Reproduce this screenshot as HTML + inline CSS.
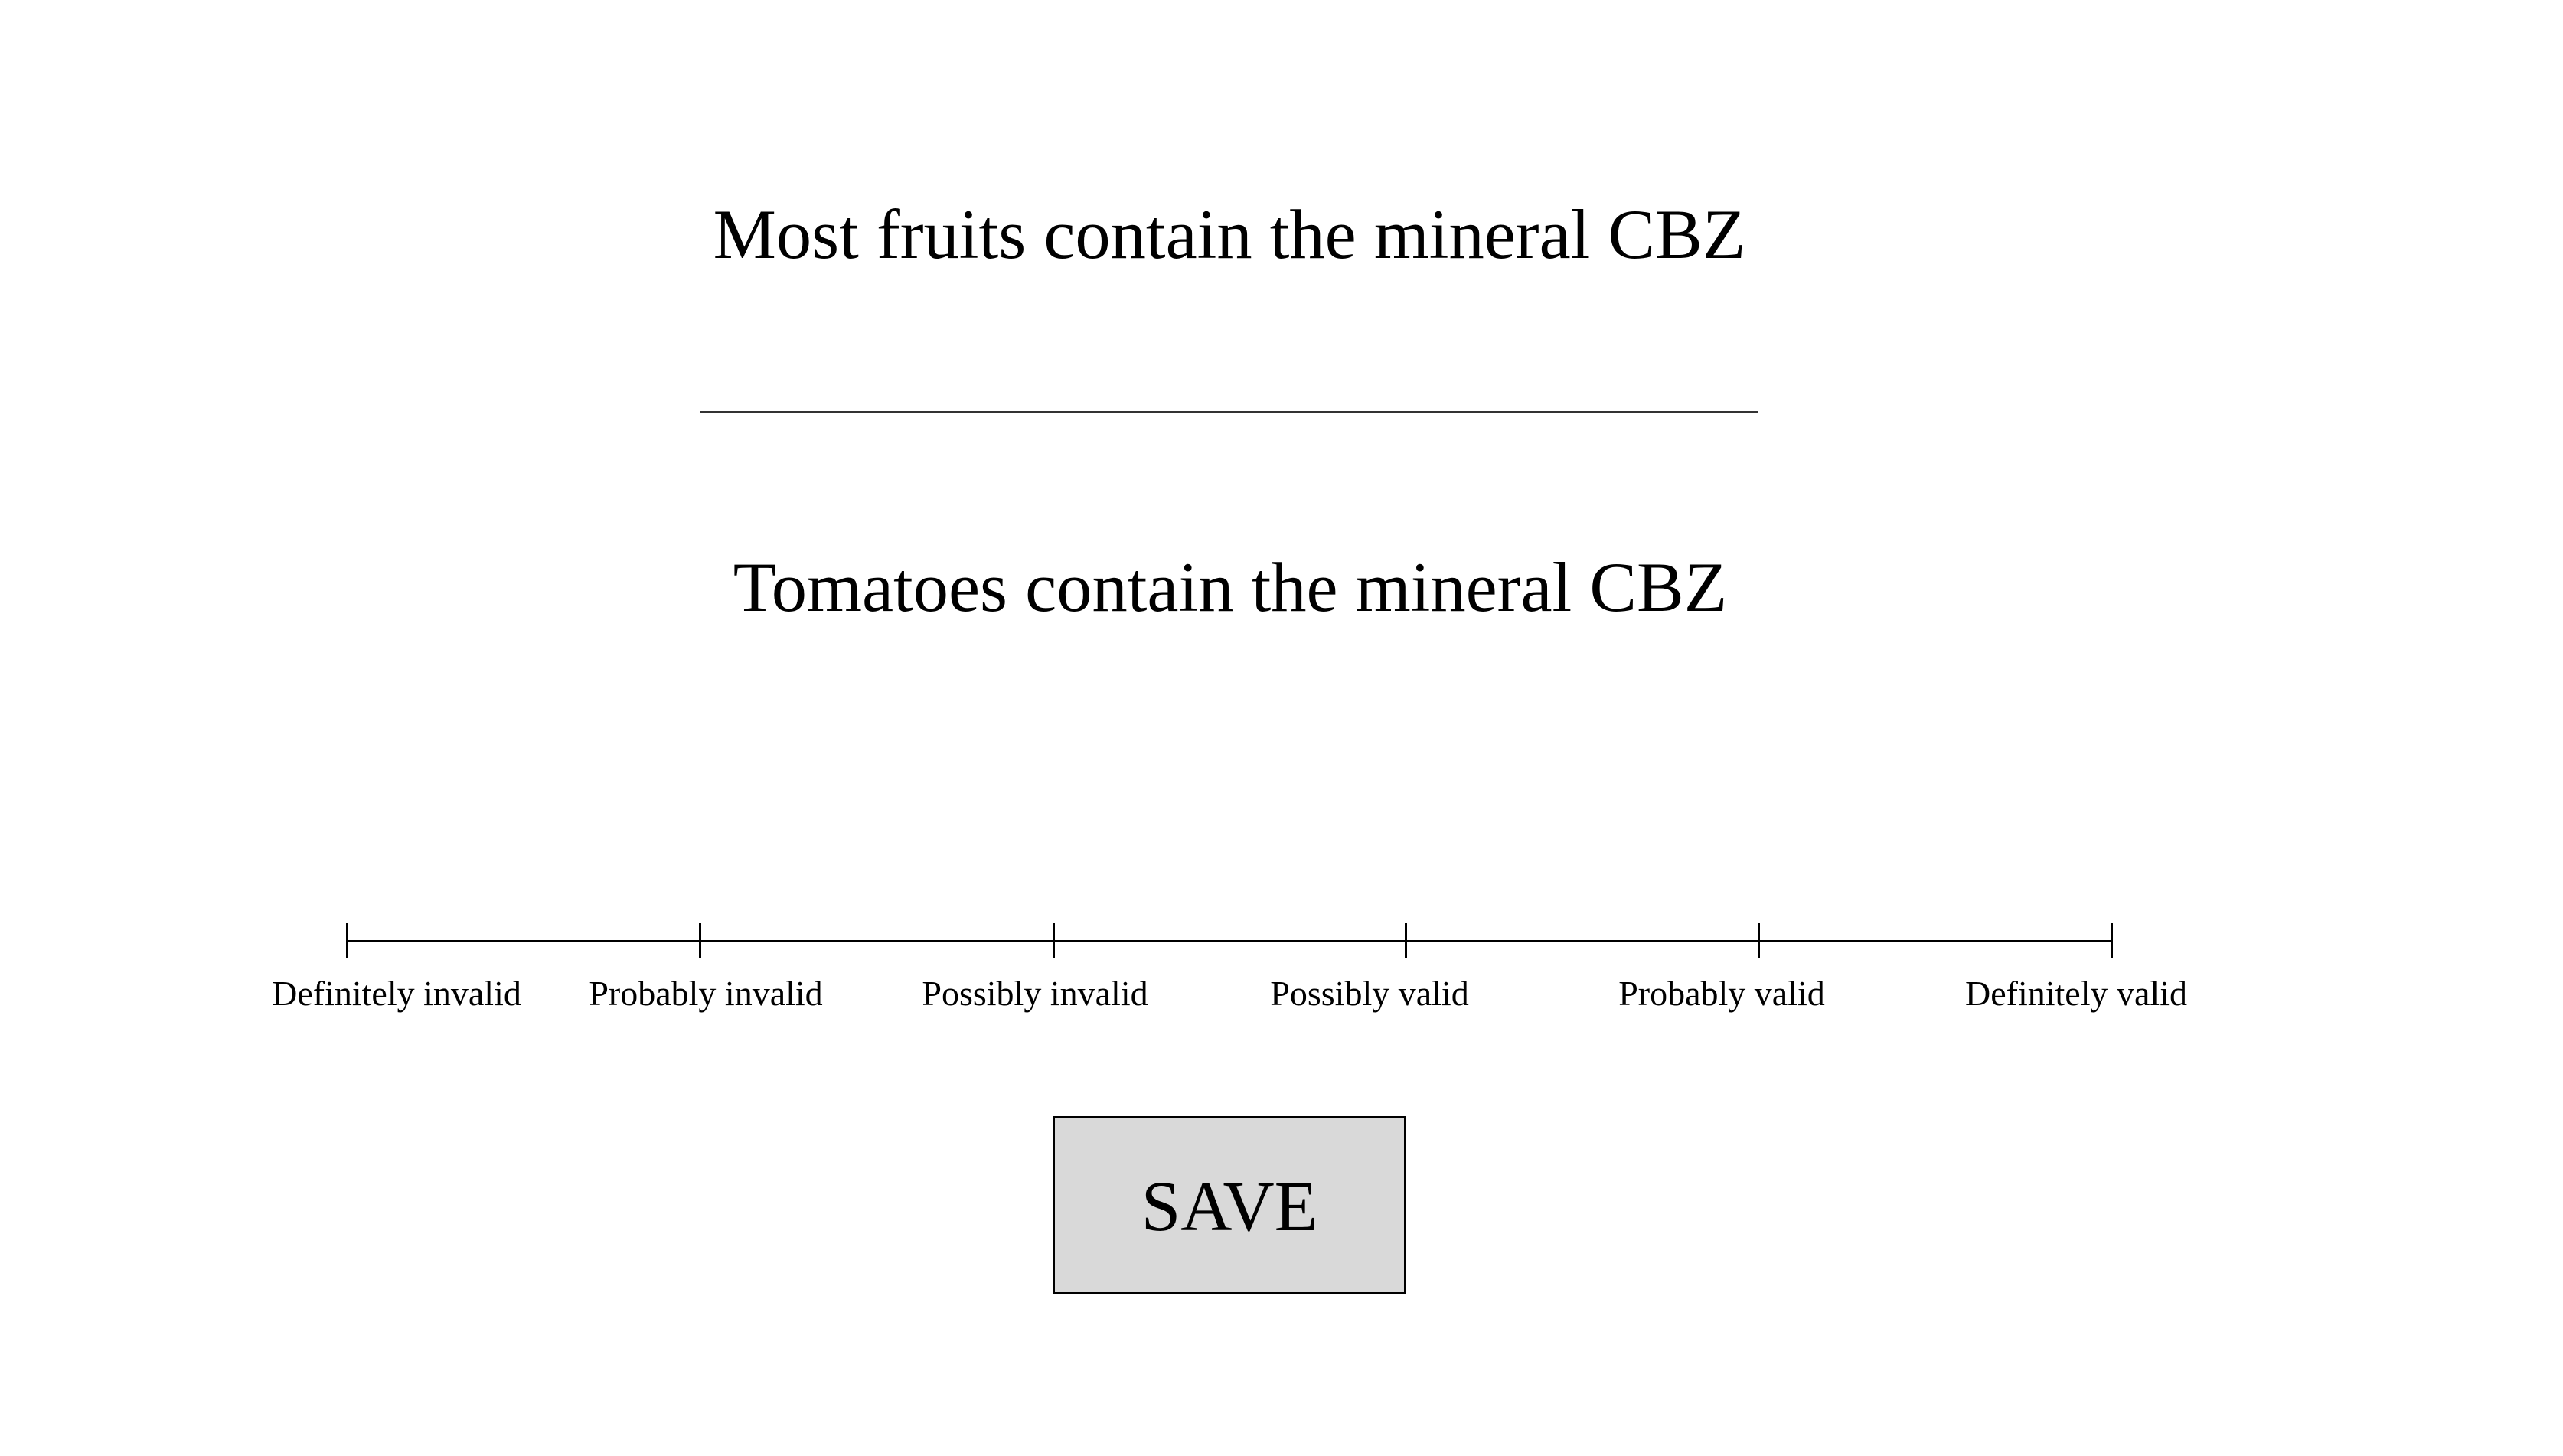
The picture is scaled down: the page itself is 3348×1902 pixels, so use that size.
<!DOCTYPE html>
<html><head><meta charset="utf-8"><style>
body{margin:0;width:3348px;height:1902px;background:#fff;position:relative;overflow:hidden;font-family:"Liberation Serif",serif;color:#000}
.a{position:absolute}
.t{position:absolute;white-space:nowrap;line-height:1}
</style></head><body>
<div class="t" style="left:0;width:3212px;text-align:center;top:261px;font-size:92.5px">Most fruits contain the mineral CBZ</div>
<div class="a" style="left:915px;width:1382px;top:537px;height:2px;background:#333"></div>
<div class="t" style="left:0;width:3214px;text-align:center;top:722px;font-size:92.5px">Tomatoes contain the mineral CBZ</div>
<div class="a" style="left:453px;width:2306px;top:1228px;height:3px;background:#000"></div>
<div id="ticks"></div>
<div class="a" style="left:1376px;top:1458px;width:456px;height:228px;background:#d9d9d9;border:2px solid #000"></div>
<div class="t" style="left:1376px;width:460px;text-align:center;top:1530px;font-size:93px">SAVE</div>
<script>
const labels=["Definitely invalid","Probably invalid","Possibly invalid","Possibly valid","Probably valid","Definitely valid"];
const tickX=[453,914,1376,1836,2297,2758];
const labelCenter=[518,922,1352,1789,2249,2712];
const c=document.getElementById('ticks');
labels.forEach((l,i)=>{
 const t=document.createElement('div');
 t.className='a';
 
 
 t.style.cssText=`left:${tickX[i]-1}px;top:1206px;width:3px;height:46px;background:#000`;
 c.appendChild(t);
 const s=document.createElement('div');
 s.className='t';
 
 
 s.style.cssText=`left:${labelCenter[i]-300}px;width:600px;text-align:center;top:1275px;font-size:46px`;
 s.textContent=l;
 c.appendChild(s);
});
</script>
</body></html>
